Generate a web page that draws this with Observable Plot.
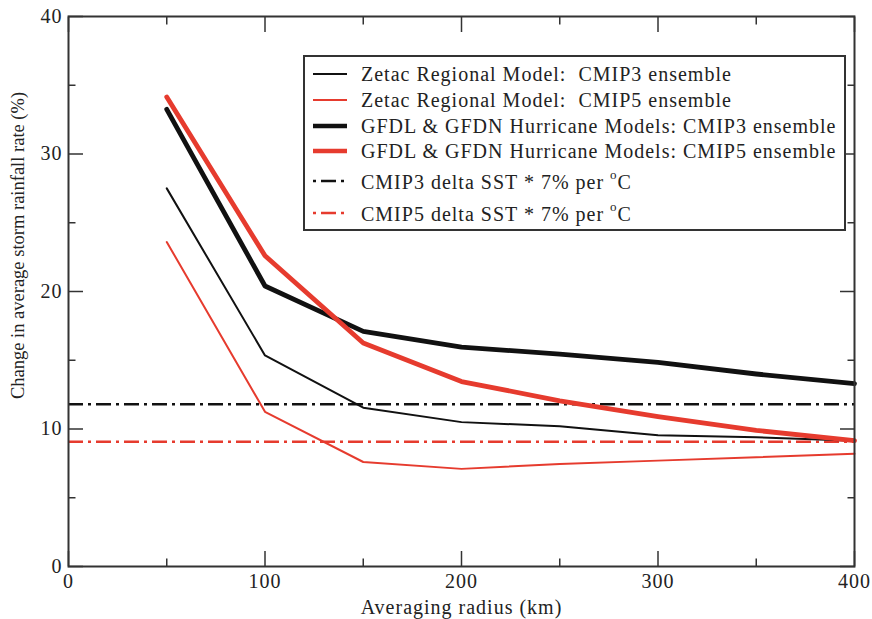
<!DOCTYPE html>
<html>
<head>
<meta charset="utf-8">
<script src="https://cdn.jsdelivr.net/npm/d3@7"></script>
<script src="https://cdn.jsdelivr.net/npm/@observablehq/plot@0.6"></script>
<style>
  body { margin: 0; background: #fff; }
  #wrap { position: relative; width: 872px; height: 619px; }
  #legend { position: absolute; left: 303px; top: 55px; width: 539px; height: 172px;
            border: 2px solid #333; background: #fff;
            font-family: "Liberation Serif", "Times New Roman", serif; font-size: 20px; letter-spacing: 1px; color: #222; }
  .row { position: absolute; left: 0; height: 28px; display: flex; align-items: center; white-space: nowrap; }
  .row svg { margin-left: 8px; margin-right: 14px; }
  sup { font-size: 13px; position: relative; top: -2px; }
</style>
</head>
<body>
<div id="wrap"></div>
<script>
// ---- data ----
const radius = [50, 100, 150, 200, 250, 300, 350, 400];
const zetacCMIP3 = [27.5, 15.35, 11.55, 10.5, 10.2, 9.55, 9.4, 9.15];
const zetacCMIP5 = [23.6, 11.25, 7.6, 7.1, 7.45, 7.7, 7.95, 8.2];
const gfdlCMIP3  = [33.25, 20.4, 17.1, 15.95, 15.45, 14.85, 14.0, 13.3];
const gfdlCMIP5  = [34.15, 22.6, 16.25, 13.45, 12.05, 10.9, 9.9, 9.15];
const sstCMIP3 = [11.8];
const sstCMIP5 = [9.07];

const xMajorTicks = [0, 100, 200, 300, 400];
const xMinorTicks = [50, 150, 250, 350];
const yMajorTicks = [0, 10, 20, 30, 40];
const yMinorTicks = [5, 15, 25, 35];

const xTitle = "Averaging radius (km)";
const yTitle = "Change in average storm rainfall rate (%)";

const legendLabels = [
  "Zetac Regional Model:&nbsp; CMIP3 ensemble",
  "Zetac Regional Model:&nbsp; CMIP5 ensemble",
  "GFDL &amp; GFDN Hurricane Models: CMIP3 ensemble",
  "GFDL &amp; GFDN Hurricane Models: CMIP5 ensemble",
  "CMIP3 delta SST * 7% per <sup>o</sup>C",
  "CMIP5 delta SST * 7% per <sup>o</sup>C"
];

const BLACK = "#111";
const RED = "#e63b2e";
const legendColors = [BLACK, RED, BLACK, RED, BLACK, RED];
const legendWidths = [2, 2, 4.5, 4.5, 2.5, 2.5];
const legendDash = [null, null, null, null, "3,5,15,5", "3,5,15,5"];
const legendRowCenters = [74, 100, 126, 151, 181, 213];

const table = vals => radius.map((r, i) => ({r, v: vals[i]}));
const DASH = "15,5,3,5";

const plot = Plot.plot({
  width: 872,
  height: 619,
  marginLeft: 68,
  marginRight: 18,
  marginTop: 16,
  marginBottom: 53,
  x: {domain: [0, 400], axis: null},
  y: {domain: [0, 40], axis: null},
  style: {fontFamily: "'Liberation Serif', 'Times New Roman', serif", fontSize: "20px", color: "#222", background: "#fff", letterSpacing: "1px"},
  marks: [
    Plot.ruleY(sstCMIP3, {y: d => d, stroke: BLACK, strokeWidth: 2.5, strokeDasharray: DASH}),
    Plot.ruleY(sstCMIP5, {y: d => d, stroke: RED, strokeWidth: 2.5, strokeDasharray: DASH}),
    Plot.line(table(zetacCMIP3), {x: "r", y: "v", stroke: BLACK, strokeWidth: 2}),
    Plot.line(table(zetacCMIP5), {x: "r", y: "v", stroke: RED, strokeWidth: 2}),
    Plot.line(table(gfdlCMIP3), {x: "r", y: "v", stroke: BLACK, strokeWidth: 4.8}),
    Plot.line(table(gfdlCMIP5), {x: "r", y: "v", stroke: RED, strokeWidth: 4.8}),
    Plot.frame({stroke: "#333", strokeWidth: 2}),
    // bottom axis
    Plot.axisX(xMajorTicks, {anchor: "bottom", tickSize: -15, tickPadding: 22, tickFormat: d => String(d), label: null, fontSize: 20, strokeWidth: 1.5, stroke: "#333"}),
    Plot.axisX(xMinorTicks, {anchor: "bottom", tickSize: -7.5, tickFormat: () => "", label: null, strokeWidth: 1.5, stroke: "#333"}),
    // top mirrored ticks
    Plot.axisX(xMajorTicks, {anchor: "top", tickSize: -15, tickFormat: () => "", label: null, strokeWidth: 1.5, stroke: "#333"}),
    Plot.axisX(xMinorTicks, {anchor: "top", tickSize: -7.5, tickFormat: () => "", label: null, strokeWidth: 1.5, stroke: "#333"}),
    // left axis
    Plot.axisY(yMajorTicks, {anchor: "left", tickSize: -15, tickPadding: 21, tickFormat: d => String(d), label: null, fontSize: 20, strokeWidth: 1.5, stroke: "#333"}),
    Plot.axisY(yMinorTicks, {anchor: "left", tickSize: -7.5, tickFormat: () => "", label: null, strokeWidth: 1.5, stroke: "#333"}),
    // right mirrored ticks
    Plot.axisY(yMajorTicks, {anchor: "right", tickSize: -15, tickFormat: () => "", label: null, strokeWidth: 1.5, stroke: "#333"}),
    Plot.axisY(yMinorTicks, {anchor: "right", tickSize: -7.5, tickFormat: () => "", label: null, strokeWidth: 1.5, stroke: "#333"}),
    // titles
    Plot.text([xTitle], {text: d => d, frameAnchor: "bottom", dy: 41, lineAnchor: "middle", fontSize: 20, fill: "#222"}),
    Plot.text([yTitle], {text: d => d, frameAnchor: "left", textAnchor: "middle", dx: -50, dy: -46, rotate: -90, lineAnchor: "middle", fontSize: 18.5, fill: "#222"})
  ]
});

// y title: no letter spacing (vertical text length matches font size directly)
d3.select(plot).selectAll("text").filter(function() { return this.textContent === yTitle; })
  .style("letter-spacing", "0px");

const wrap = document.getElementById("wrap");
wrap.appendChild(plot);

// legend overlay
const legend = document.createElement("div");
legend.id = "legend";
wrap.appendChild(legend);
legendLabels.forEach((lab, i) => {
  const row = document.createElement("div");
  row.className = "row";
  row.style.top = (legendRowCenters[i] - 57 - 14) + "px";
  const dash = legendDash[i] ? `stroke-dasharray="${legendDash[i]}"` : "";
  row.innerHTML = `<svg width="34" height="10"><line x1="0" x2="34" y1="5" y2="5" stroke="${legendColors[i]}" stroke-width="${legendWidths[i]}" ${dash}/></svg><span>${lab}</span>`;
  legend.appendChild(row);
});
</script>
</body>
</html>
